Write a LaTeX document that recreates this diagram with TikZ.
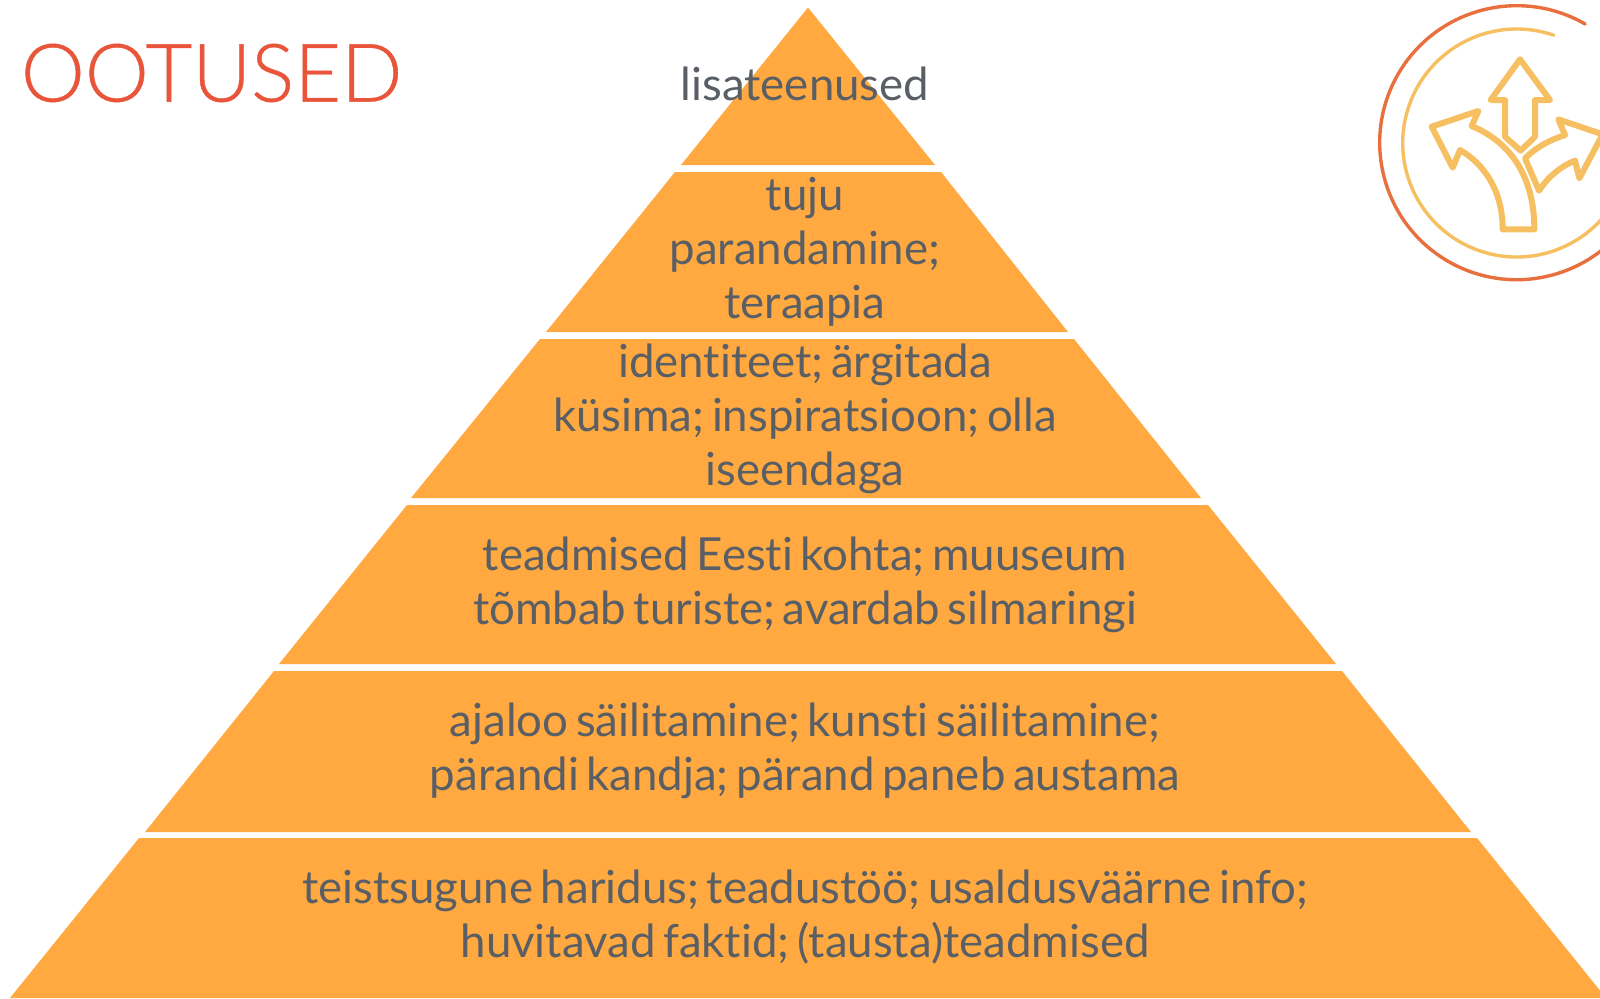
\documentclass[tikz,border=0pt]{standalone}
\usepackage{fontspec}
\setmainfont[Ligatures=CommonOff,WordSpace=0.65]{Lato}
\newfontfamily\ttlfont[FakeBold=0.5]{Lato Light}
\definecolor{pyr}{HTML}{FFA940}
\definecolor{txt}{HTML}{5A5F66}
\definecolor{ttl}{HTML}{E8553A}
\definecolor{ring}{HTML}{E8703F}
\definecolor{ico}{HTML}{F6BF62}
\tikzset{
  band/.style={fill=pyr,draw=none},
  lbl/.style={text=txt,font=\fontsize{22.8}{27}\selectfont,align=center,inner sep=0pt,anchor=center},
  ringa/.style={draw=ring,line width=1.7pt,line cap=round},
  ringb/.style={draw=ico,line width=1.7pt,line cap=round},
  arr/.style={draw=ico,line width=3pt,line join=round}
}
\begin{document}
\begin{tikzpicture}[x=0.5pt,y=-0.5pt]
\useasboundingbox (0,0) rectangle (1600,998);
\clip (0,0) rectangle (1600,998);
\fill[white] (0,0) rectangle (1600,998);
% pyramid bands
\path[band] (808,7.5) -- (935,165) -- (681,165) -- cycle;
\path[band] (675,172) -- (941,172) -- (1068,332) -- (546,332) -- cycle;
\path[band] (540,339) -- (1074,339) -- (1201,498) -- (411,498) -- cycle;
\path[band] (407,505) -- (1208,505) -- (1336,664) -- (279,664) -- cycle;
\path[band] (274,671) -- (1342,671) -- (1471,832) -- (145,832) -- cycle;
\path[band] (139,838) -- (1477,838) -- (1606,998) -- (10,998) -- cycle;
% labels
\node[lbl] (t1) at (805,83.5) {lisateenused};
\node[lbl] (t2) at (805,252) {tuju\\parandamine;\\teraapia};
\node[lbl] (t3) at (805,419) {identiteet; ärgitada\\küsima; inspiratsioon; olla\\iseendaga};
\node[lbl] (t4) at (805,584.5) {teadmised Eesti kohta; muuseum\\tõmbab turiste; avardab silmaringi};
\node[lbl] (t5) at (805,751) {ajaloo säilitamine; kunsti säilitamine;\\pärandi kandja; pärand paneb austama};
\node[lbl] (t6) at (805,917.5) {teistsugune haridus; teadustöö; usaldusväärne info;\\huvitavad faktid; (tausta)teadmised};
\node[text=ttl,font=\ttlfont\fontsize{40.4}{44}\selectfont,inner sep=0pt,anchor=west] (title) at (20.5,73) {OOTUSED};
% icon
\draw[ringa] (1516.7,142.7) ++(-60:137) arc[start angle=-60,end angle=-410,radius=137];
\draw[ringb] (1516.7,143) ++(-71:114) arc[start angle=-71,end angle=-390,radius=114];
\begin{scope}[shift={(1320,0)},scale=1/3]
\draw[arr] (600,178) -- (690,300) -- (645,300) -- (645,410) -- (602,452) -- (555,410) -- (555,300) -- (512,300) -- cycle;
\draw[arr] (335,380) -- (475,333) -- (455,378) .. controls (580,430) and (643,540) .. (643,688) -- (548,688) .. controls (548,570) and (490,490) .. (420,450) -- (398,503) -- cycle;
\draw[arr] (615,475) .. controls (650,440) and (690,420) .. (735,405) -- (715,358) -- (848,403) -- (778,535) -- (765,482) .. controls (720,500) and (685,530) .. (657,572) -- cycle;
\end{scope}
\end{tikzpicture}
\end{document}
